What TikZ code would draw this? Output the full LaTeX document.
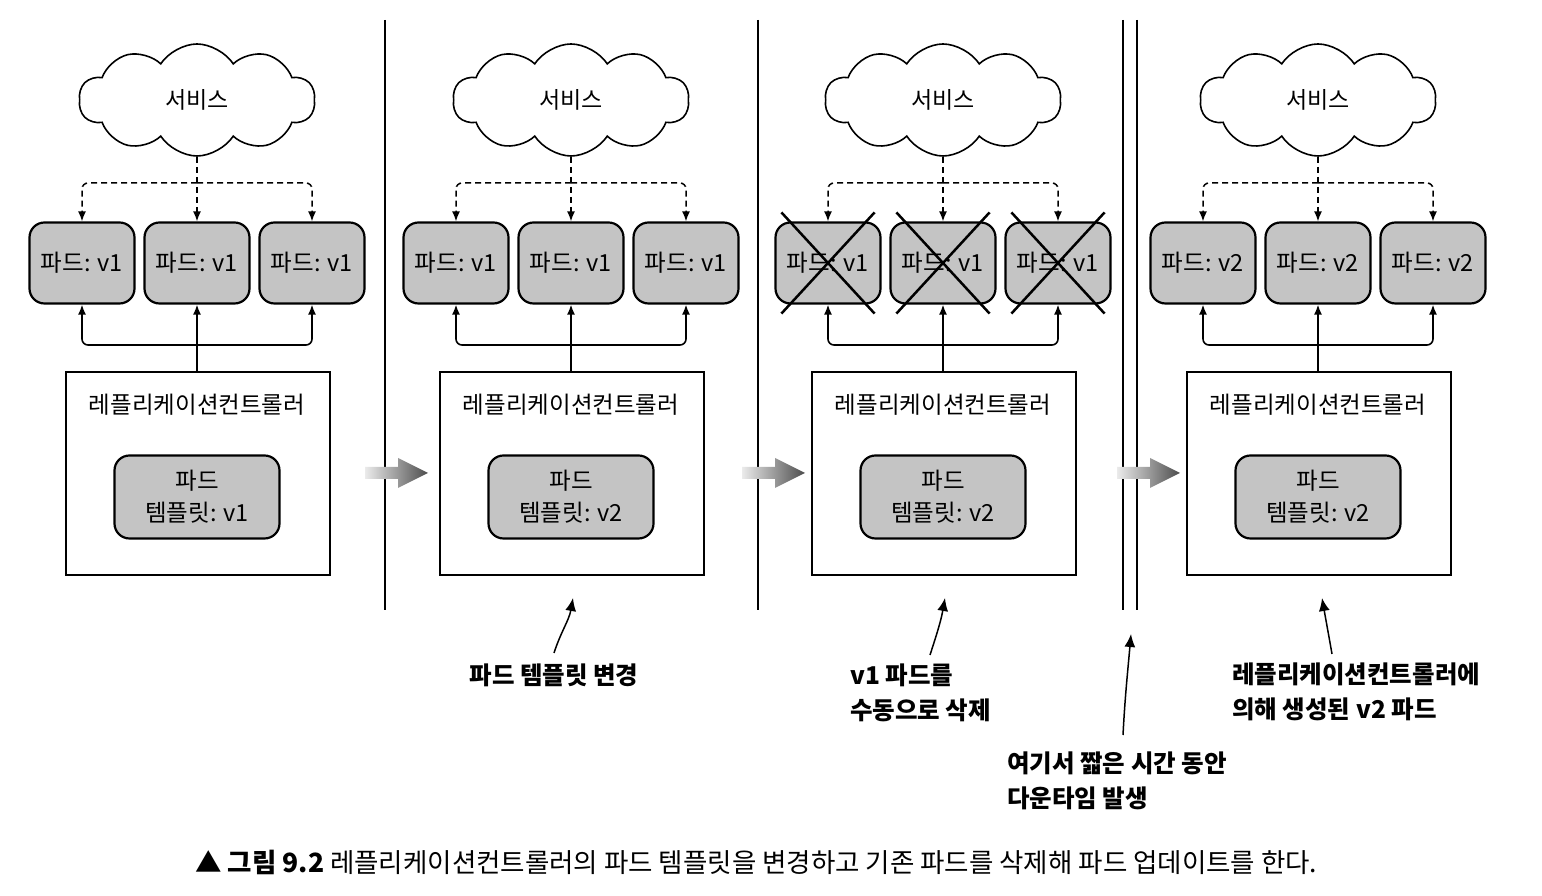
\documentclass[tikz,border=0pt]{standalone}
\usepackage{fontspec}
\setmainfont{Noto Sans CJK KR}
\usetikzlibrary{shapes.symbols,arrows.meta,calc}

\tikzset{
	pod/.style={draw, line width=2.2pt, fill=black!23, rounded corners=15pt,
		minimum width=105pt, minimum height=81pt, font=\fontsize{23.5}{28}\selectfont},
	tmpl/.style={pod, minimum width=165pt, minimum height=83pt, align=center,
		font=\fontsize{23.5}{32}\selectfont},
	rcbox/.style={draw, line width=1.7pt, minimum width=264pt, minimum height=203pt},
	svc/.style={cloud, draw, line width=1.6pt, cloud puffs=10, cloud puff arc=115,
		aspect=2.1, minimum width=236pt, minimum height=112pt, font=\fontsize{23}{28}\selectfont},
	svcline/.style={line width=1.5pt, dash pattern=on 6pt off 4pt, -{Latex[length=10pt,width=8pt]}},
	ctlline/.style={line width=1.6pt, -{Latex[length=10pt,width=8pt]}},
	note/.style={line width=1.5pt, -{Latex[length=13pt,width=11pt]}},
	lbl/.style={font=\fontsize{24.5}{35}\selectfont\bfseries, align=left, inner sep=0pt}
}

\begin{document}
\begin{tikzpicture}[x=1pt, y=1pt]
		%%%%% START %%%%%
		\useasboundingbox (0,0) rectangle (1542,896);
		
		% four snapshots
		\foreach \i/\cx/\pv/\tv in {1/197/v1/v1, 2/571/v1/v2, 3/943/v1/v2, 4/1318/v2/v2} {
			\node[svc] (svc\i) at (\cx,796) {서비스};
			\node[pod] (pod\i-1) at (\cx-115,633) {파드: \pv};
			\node[pod] (pod\i-2) at (\cx,633) {파드: \pv};
			\node[pod] (pod\i-3) at (\cx+115,633) {파드: \pv};
			\node[rcbox] (rc\i) at (\cx+1,422.5) {};
			\node[font=\fontsize{23.5}{28}\selectfont] (rct\i) at (\cx,491) {레플리케이션컨트롤러};
			\node[tmpl] (tpl\i) at (\cx,399) {파드\\템플릿: \tv};
			
			\coordinate (sj\i) at (\cx,713);
			\draw[svcline] (svc\i.south) -- (pod\i-2.north);
			\draw[svcline, rounded corners=6pt] (sj\i) -| (pod\i-1.north);
			\draw[svcline, rounded corners=6pt] (sj\i) -| (pod\i-3.north);
			
			\coordinate (rj\i) at (\cx,551);
			\draw[ctlline] (rc\i.north -| rj\i) -- (pod\i-2.south);
			\draw[ctlline, rounded corners=6pt] (rj\i) -| (pod\i-1.south);
			\draw[ctlline, rounded corners=6pt] (rj\i) -| (pod\i-3.south);
		}
		
		% deleted pods
		\foreach \k in {1,2,3} {
			\draw[line width=2.5pt] ($(pod3-\k.north west)+(7,9)$) -- ($(pod3-\k.south east)+(-7,-9)$);
			\draw[line width=2.5pt] ($(pod3-\k.north east)+(-7,9)$) -- ($(pod3-\k.south west)+(7,-9)$);
		}
		
		% dividers
		\foreach \dx in {385,758,1123,1137}
			\draw[line width=1.6pt] (\dx,876) -- (\dx,286);
		
		% fat arrows
		\foreach \ax in {365,742,1117}
			\shade[left color=black!8, right color=black!70]
				(\ax,429) -- (\ax+33,429) -- (\ax+33,438) -- (\ax+63,423)
				-- (\ax+33,408) -- (\ax+33,417) -- (\ax,417) -- cycle;
		
		% notes
		\node[lbl, anchor=north] (lbl2) at (554,232) {파드 템플릿 변경};
		\coordinate (tip2) at (573,298);
		\draw[note] ([yshift=11pt]lbl2.north) to[out=72, in=-100] (tip2);
		
		\node[lbl, anchor=north west] (lbl3) at (850,232) {v1 파드를\\수동으로 삭제};
		\coordinate (tip3) at (945,298);
		\draw[note] ($(lbl3.north west)+(80,9)$) to[out=72, in=-100] (tip3);
		
		\node[lbl, anchor=north west] (lbl5) at (1007,144) {여기서 짧은 시간 동안\\다운타임 발생};
		\coordinate (tip5) at (1131,262);
		\draw[note] ($(lbl5.north west)+(116,17)$) to[out=87, in=-95] (tip5);
		
		\node[lbl, anchor=north west] (lbl4) at (1232,233) {레플리케이션컨트롤러에\\의해 생성된 v2 파드};
		\coordinate (tip4) at (1322,298);
		\draw[note] ($(lbl4.north west)+(100,9)$) to[out=100, in=-80] (tip4);
		
		% caption
		\node[anchor=west, inner sep=0pt, font=\fontsize{26.5}{30}\selectfont] (cap) at (195,34)
			{{\bfseries ▲ 그림 9.2} 레플리케이션컨트롤러의 파드 템플릿을 변경하고 기존 파드를 삭제해 파드 업데이트를 한다.};
		%%%%% END %%%%%
	\end{tikzpicture}
\end{document}
